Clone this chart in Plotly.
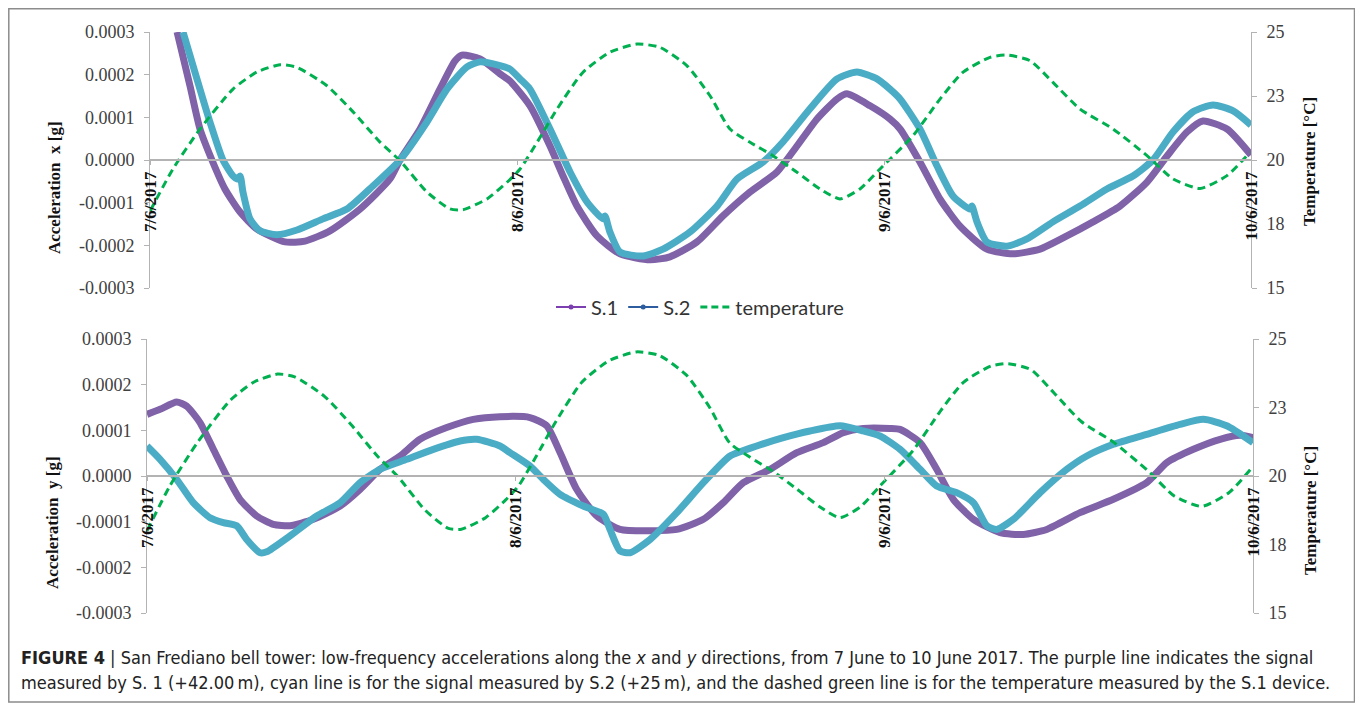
import plotly.graph_objects as go

# The page body has an 8px margin, so the figure is sized to fit the 1363x711 window.
OFF = 8
FW, FH = 1363 - 2 * OFF, 711 - 2 * OFF

# ---------------- data (time in hours from 7/6/2017 00:00) ----------------
x_s1_top = [1.77, 2.62, 3.27, 4.05, 4.90, 5.89, 7.0, 8.83, 10.14, 11.77, 13.73, 15.69, 16.35, 17.66,
            18.96, 19.94, 20.40, 21.58, 22.89, 23.54, 24.85, 26.16, 27.01, 27.92, 29.23, 30.74, 32.70,
            34.0, 35.77, 37.47, 39.24, 41.0, 42.31, 43.62, 44.93, 45.58, 47.09, 48.39, 49.05, 50.35,
            51.66, 52.97, 54.73, 56.43, 58.2, 59.96, 61.67, 63.43, 65.2, 66.51, 67.81, 68.86, 70.43, 72.0]
y_s1_top = [0.00030, 0.000173, 0.0000727, 0.0, -0.000068, -0.000122, -0.000162, -0.000192, -0.00019,
            -0.000166, -0.000115, -0.0000445, 0.0, 0.0000727, 0.000166, 0.000232, 0.000246, 0.000237,
            0.000202, 0.000185, 0.000127, 0.0000328, -0.0000375, -0.000108, -0.000178, -0.00022,
            -0.000234, -0.000227, -0.000192, -0.000131, -0.000075, -0.000028, 0.0000328, 0.0000961,
            0.000143, 0.000155, 0.000127, 0.0000961, 0.0000727, -0.0000047, -0.0000914, -0.000155,
            -0.000209, -0.00022, -0.000209, -0.000178, -0.000145, -0.000108, -0.0000516, 0.0000094,
            0.0000656, 0.0000914, 0.0000727, 0.0000117]

x_s2_top = [2.16, 3.07, 3.92, 4.77, 5.43, 5.69, 5.89, 6.08, 6.54, 7.19, 8.30, 9.61, 11.31, 12.88, 14.58,
            16.35, 18.11, 19.42, 20.73, 21.58, 22.89, 23.54, 24.2, 24.85, 26.16, 27.47, 28.58, 29.62,
            29.75, 30.08, 30.74, 32.24, 33.55, 35.31, 37.08, 38.39, 40.09, 41.39, 43.16, 44.93, 46.23,
            47.54, 48.39, 49.05, 50.35, 51.47, 52.51, 53.62, 53.75, 54.08, 54.73, 56.04, 57.35, 59.05,
            60.82, 62.58, 64.28, 65.59, 66.9, 68.21, 69.52, 70.83, 72.0]
y_s2_top = [0.00030, 0.00019, 0.0000891, 0.0, -0.0000375, -0.0000445, -0.0000375, -0.000075, -0.000138,
            -0.000166, -0.000175, -0.000164, -0.000138, -0.000115, -0.0000609, 0.0, 0.0000891, 0.000166,
            0.000218, 0.00023, 0.000221, 0.000213, 0.00019, 0.000166, 0.0000727, -0.0000281, -0.0000984,
            -0.000138, -0.000131, -0.000169, -0.000216, -0.000225, -0.000209, -0.000169, -0.000108,
            -0.0000445, -0.0000047, 0.0000422, 0.00012, 0.00019, 0.000206, 0.00019, 0.000166, 0.000143,
            0.0000727, -0.0000141, -0.0000844, -0.000115, -0.000108, -0.000145, -0.000192, -0.000202,
            -0.000185, -0.000145, -0.000108, -0.000068, -0.0000375, 0.0, 0.0000656, 0.000113, 0.000129,
            0.000115, 0.000082]

x_temp = [0.0, 1.5, 3.27, 5.43, 7.0, 8.5, 9.61, 11.57, 13.28, 15.04, 16.35, 18.11, 19.62, 20.47, 22.04,
          23.35, 24.2, 25.31, 26.62, 28.32, 30.08, 31.85, 33.35, 35.12, 36.62, 37.93, 39.24, 40.74,
          42.31, 43.81, 45.12, 46.43, 47.74, 49.9, 51.66, 53.17, 54.93, 56.04, 57.55, 59.05, 60.82,
          62.98, 65.2, 66.9, 68.67, 70.43, 71.93]
y_temp = [18.0, 19.65, 21.21, 22.77, 23.44, 23.72, 23.62, 22.9, 21.88, 20.7, 19.97, 18.75, 18.09, 18.06,
          18.48, 19.13, 19.65, 20.69, 21.99, 23.43, 24.21, 24.53, 24.4, 23.68, 22.51, 21.21, 20.69,
          20.17, 19.52, 18.87, 18.48, 18.87, 19.65, 20.95, 22.38, 23.43, 24.01, 24.1, 23.88, 23.03,
          21.99, 21.21, 20.17, 19.26, 18.89, 19.39, 20.3]

x_s1_bot = [0.0, 0.85, 1.93, 2.58, 3.45, 4.32, 5.19, 6.05, 7.14, 8.22, 9.31, 10.83, 12.57, 13.87, 15.17,
            16.47, 17.77, 19.51, 21.24, 22.98, 24.93, 26.02, 26.89, 27.97, 29.28, 30.79, 32.75, 34.49,
            36.22, 37.52, 38.82, 40.56, 42.3, 44.03, 45.33, 46.63, 48.37, 49.02, 50.33, 51.41, 52.49,
            53.8, 55.53, 57.05, 58.57, 60.74, 62.91, 65.08, 66.39, 68.12, 69.86, 71.16, 72.0]
y_s1_bot = [0.000135, 0.000146, 0.000162, 0.000153, 0.000117, 0.0000585, 0.0, -0.000051, -0.0000876,
            -0.000106, -0.000109, -0.0000949, -0.0000657, -0.0000292, 0.0000146, 0.0000438, 0.0000803,
            0.000106, 0.000124, 0.00013, 0.000128, 0.00011, 0.0000512, -0.0000292, -0.0000876, -0.000117,
            -0.00012, -0.000117, -0.0000949, -0.0000584, -0.0000146, 0.0000146, 0.0000512, 0.000073,
            0.000095, 0.000104, 0.000104, 0.000102, 0.000073, 0.0000146, -0.000051, -0.0000949,
            -0.000124, -0.000128, -0.000117, -0.0000803, -0.000051, -0.0000146, 0.0000292, 0.0000584,
            0.0000803, 0.0000891, 0.0000839]

x_s2_bot = [0.0, 0.85, 1.93, 3.01, 4.1, 4.97, 5.84, 6.49, 7.36, 7.79, 9.31, 11.05, 12.57, 13.87, 15.17,
            16.91, 18.64, 20.38, 21.46, 22.98, 23.63, 24.93, 25.8, 26.89, 28.4, 29.71, 30.14, 30.79,
            31.45, 32.75, 34.49, 36.22, 37.96, 39.69, 41.43, 43.16, 45.12, 46.63, 47.72, 49.02, 50.33,
            51.41, 52.71, 53.8, 54.67, 55.32, 56.4, 58.14, 59.88, 61.18, 62.91, 65.08, 67.25, 68.77,
            70.29, 72.0]
y_s2_bot = [0.0000657, 0.0000365, -0.0000073, -0.0000584, -0.0000912, -0.000102, -0.000109, -0.000139,
            -0.000168, -0.000166, -0.000131, -0.0000876, -0.0000584, -0.0000146, 0.0000146, 0.0000365,
            0.0000584, 0.0000767, 0.0000803, 0.0000657, 0.0000512, 0.0000219, -0.0000073, -0.00004,
            -0.0000657, -0.0000839, -0.000117, -0.000164, -0.000168, -0.000139, -0.0000803, -0.0000146,
            0.0000438, 0.0000657, 0.000084, 0.0000986, 0.00011, 0.0000986, 0.0000876, 0.0000584,
            0.0000146, -0.0000219, -0.0000365, -0.0000584, -0.000109, -0.000117, -0.0000949, -0.0000365,
            0.0000146, 0.0000438, 0.0000694, 0.0000913, 0.000113, 0.000124, 0.00011, 0.000073]

date_ticks = [0, 24, 48, 72]
date_labels = ["7/6/2017", "8/6/2017", "9/6/2017", "10/6/2017"]
acc_ticks = [-0.0003, -0.0002, -0.0001, 0.0, 0.0001, 0.0002, 0.0003]
acc_labels = ["-0.0003", "-0.0002", "-0.0001", "0.0000", "0.0001", "0.0002", "0.0003"]
temp_ticks = [15, 17.5, 20, 22.5, 25]
temp_labels = ["15", "18", "20", "23", "25"]

# ---------------- styling ----------------
PURPLE = "#7F62A8"
CYAN = "#4BACC6"
BLUE_LEG = "#2E5D9F"
GREEN = "#00B050"
AXC = "#B3B3B3"
SERIF = "Liberation Serif, Times New Roman, serif"


def px_x(p):
    return (p - OFF) / FW


def px_y(p):
    return 1 - (p - OFF) / FH


top_dom = [px_y(288), px_y(32)]
bot_dom = [px_y(613), px_y(339)]

fig = go.Figure()

line_kw = dict(shape="spline", smoothing=0.6)

fig.add_trace(go.Scatter(x=x_s1_top, y=y_s1_top, mode="lines", showlegend=False,
                         line=dict(color=PURPLE, width=7, **line_kw), xaxis="x", yaxis="y"))
fig.add_trace(go.Scatter(x=x_s2_top, y=y_s2_top, mode="lines", showlegend=False,
                         line=dict(color=CYAN, width=7, **line_kw), xaxis="x", yaxis="y"))
fig.add_trace(go.Scatter(x=x_temp, y=y_temp, mode="lines", showlegend=False,
                         line=dict(color=GREEN, width=3, dash="8px,5px", **line_kw), xaxis="x", yaxis="y2"))

fig.add_trace(go.Scatter(x=x_s1_bot, y=y_s1_bot, mode="lines", showlegend=False,
                         line=dict(color=PURPLE, width=7, **line_kw), xaxis="x2", yaxis="y3"))
fig.add_trace(go.Scatter(x=x_s2_bot, y=y_s2_bot, mode="lines", showlegend=False,
                         line=dict(color=CYAN, width=7, **line_kw), xaxis="x2", yaxis="y3"))
fig.add_trace(go.Scatter(x=x_temp, y=y_temp, mode="lines", showlegend=False,
                         line=dict(color=GREEN, width=3, dash="8px,5px", **line_kw), xaxis="x2", yaxis="y4"))

# legend-only traces
fig.add_trace(go.Scatter(x=[None], y=[None], mode="lines+markers", name="S.1",
                         line=dict(color="#7B3FB0", width=2), marker=dict(size=5, color="#7B3FB0"),
                         xaxis="x", yaxis="y"))
fig.add_trace(go.Scatter(x=[None], y=[None], mode="lines+markers", name="S.2",
                         line=dict(color=BLUE_LEG, width=2), marker=dict(size=5, color=BLUE_LEG),
                         xaxis="x", yaxis="y"))
fig.add_trace(go.Scatter(x=[None], y=[None], mode="lines", name="temperature",
                         line=dict(color=GREEN, width=3, dash="7px,4px"), xaxis="x", yaxis="y"))

xcommon = dict(range=[0, 72], tickvals=date_ticks, ticktext=date_labels, tickangle=-90,
               showline=True, linecolor=AXC, linewidth=1.5, ticks="outside", ticklen=4,
               tickcolor=AXC, showgrid=False, zeroline=False, anchor="free", automargin=False,
               tickfont=dict(family=SERIF, size=17, color="#111111", weight="bold"))
ycommon = dict(range=[-0.0003, 0.0003], tickvals=acc_ticks, ticktext=acc_labels,
               showline=True, linecolor=AXC, linewidth=1, ticks="outside", ticklen=5, tickcolor=AXC,
               showgrid=False, zeroline=False, ticklabelstandoff=6, automargin=False,
               tickfont=dict(family=SERIF, size=18, color="#404040"))
tcommon = dict(range=[15, 25], tickvals=temp_ticks, ticktext=temp_labels, side="right",
               showline=True, linecolor=AXC, linewidth=1, ticks="outside", ticklen=5, tickcolor=AXC,
               showgrid=False, zeroline=False, ticklabelstandoff=6, automargin=False,
               tickfont=dict(family=SERIF, size=18, color="#404040"))

fig.update_layout(
    width=FW, height=FH, margin=dict(l=0, r=0, t=0, b=0, autoexpand=False),
    paper_bgcolor="white", plot_bgcolor="rgba(0,0,0,0)",
    xaxis=dict(domain=[px_x(150), px_x(1251)], position=sum(top_dom) / 2, **xcommon),
    xaxis2=dict(domain=[px_x(147), px_x(1253)], position=sum(bot_dom) / 2, **xcommon),
    yaxis=dict(domain=top_dom, anchor="x", **ycommon),
    yaxis2=dict(domain=top_dom, anchor="x", overlaying="y", **tcommon),
    yaxis3=dict(domain=bot_dom, anchor="x2", **ycommon),
    yaxis4=dict(domain=bot_dom, anchor="x2", overlaying="y3", **tcommon),
    legend=dict(orientation="h", x=px_x(700), y=px_y(307), xanchor="center", yanchor="middle",
                font=dict(family="Lato, Open Sans, sans-serif", size=20, color="#333333"),
                bgcolor="rgba(0,0,0,0)", itemwidth=30, tracegroupgap=0),
)

ann = []
title_font = dict(family=SERIF, size=17, color="#111111", weight="bold")
for txt, cx, cy in [("Acceleration\u00a0\u00a0x [g]", 55, 188),
                    ("Acceleration\u00a0\u00a0y [g]", 52, 523),
                    ("Temperature [°C]", 1309, 162),
                    ("Temperature [°C]", 1310, 511)]:
    ann.append(dict(text=txt, x=px_x(cx), y=px_y(cy), xref="paper", yref="paper",
                    xanchor="center", yanchor="middle", showarrow=False, textangle=-90,
                    font=title_font))

cap_font = dict(family="Liberation Sans Narrow, DejaVu Sans Condensed, Arial Narrow, sans-serif",
                size=18, color="#222222")
cap1 = ("<b>FIGURE 4</b> | San Frediano bell tower: low-frequency accelerations along the <i>x</i> and "
        "<i>y</i> directions, from 7 June to 10 June 2017. The purple line indicates the signal")
cap2 = ("measured by S. 1 (+42.00\u2009m), cyan line is for the signal measured by S.2 (+25\u2009m), "
        "and the dashed green line is for the temperature measured by the S.1 device.")
for txt, cy in [(cap1, 657), (cap2, 682)]:
    ann.append(dict(text=txt, x=px_x(19), y=px_y(cy), xref="paper", yref="paper",
                    xanchor="left", yanchor="middle", showarrow=False, font=cap_font))
fig.update_layout(annotations=ann)

fig.add_shape(type="rect", xref="paper", yref="paper",
              x0=px_x(8.8), x1=px_x(1354.5), y0=px_y(702), y1=px_y(8.8),
              line=dict(color="#8C8C8C", width=1.5), fillcolor="rgba(0,0,0,0)", layer="below")

fig.write_html("out.html")
